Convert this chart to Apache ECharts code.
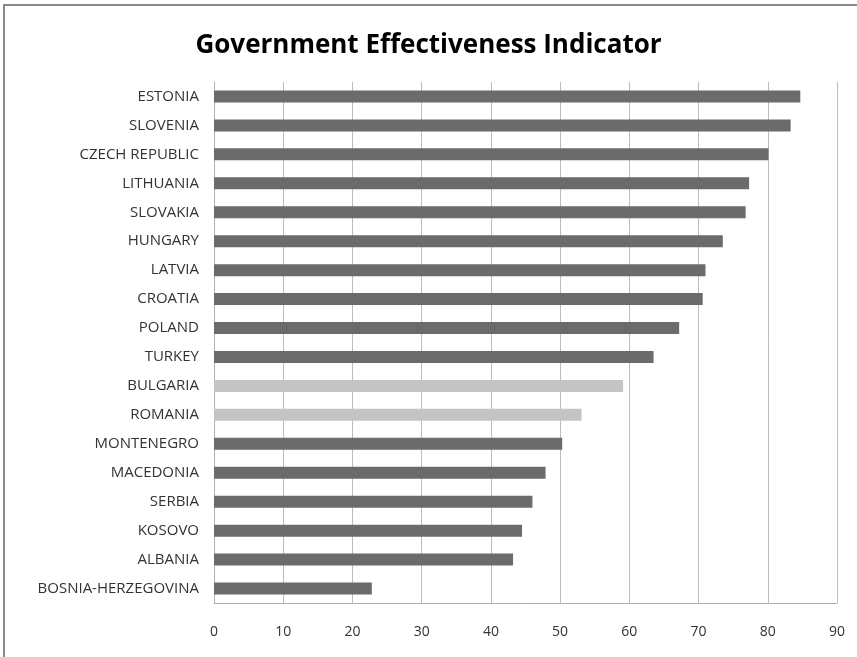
<!DOCTYPE html>
<html>
<head>
<meta charset="utf-8">
<script src="https://cdn.jsdelivr.net/npm/echarts@6/dist/echarts.min.js"></script>
<style>
  html, body { margin: 0; padding: 0; background: #fff; }
  #chart { width: 857px; height: 657px; }
  .frame {
    position: absolute; left: 3px; top: 4px; right: 0; bottom: 0;
    border-left: 2px solid #8a8a8a; border-top: 2px solid #8a8a8a;
    pointer-events: none;
  }
</style>
</head>
<body>
<div id="chart"></div>
<div class="frame"></div>
<script>
  // countries from top to bottom
  const countries = [
    "ESTONIA", "SLOVENIA", "CZECH REPUBLIC", "LITHUANIA", "SLOVAKIA", "HUNGARY",
    "LATVIA", "CROATIA", "POLAND", "TURKEY", "BULGARIA", "ROMANIA",
    "MONTENEGRO", "MACEDONIA", "SERBIA", "KOSOVO", "ALBANIA", "BOSNIA-HERZEGOVINA"
  ];
  const scores = [
    84.7, 83.3, 80.1, 77.3, 76.8, 73.5,
    71.0, 70.6, 67.2, 63.5, 59.1, 53.1,
    50.3, 47.9, 46.0, 44.5, 43.2, 22.8
  ];
  const highlighted = ["BULGARIA", "ROMANIA"];
  const xTicks = [0, 10, 20, 30, 40, 50, 60, 70, 80, 90];

  const myChart = echarts.init(document.getElementById("chart"));

  const font = "'Open Sans', 'Noto Sans', sans-serif";

  const option = {
    animation: false,
    title: {
      text: "Government Effectiveness Indicator",
      left: "center",
      top: 28,
      textStyle: {
        fontFamily: font,
        fontSize: 26,
        fontWeight: "bold",
        color: "#000"
      }
    },
    grid: {
      left: 214,
      right: 20,
      top: 82,
      bottom: 54,
      containLabel: false
    },
    xAxis: {
      type: "value",
      min: xTicks[0],
      max: xTicks[xTicks.length - 1],
      interval: 10,
      axisLine: { show: true, lineStyle: { color: "#b0b0b0" } },
      axisTick: { show: false },
      axisLabel: {
        fontFamily: font,
        fontSize: 14,
        color: "#333",
        margin: 22
      },
      splitLine: { show: true, lineStyle: { color: "#bdbdbd", width: 1 } }
    },
    yAxis: {
      type: "category",
      inverse: true,
      data: countries,
      axisLine: { show: true, lineStyle: { color: "#b0b0b0" } },
      axisTick: { show: false },
      axisLabel: {
        fontFamily: font,
        fontSize: 15,
        color: "#333",
        margin: 15
      }
    },
    series: [
      {
        type: "bar",
        barWidth: 12,
        data: scores.map((v, i) => ({
          value: v,
          itemStyle: {
            color: highlighted.includes(countries[i]) ? "#c4c4c4" : "#6b6b6b"
          }
        }))
      }
    ]
  };

  myChart.setOption(option);

  window.addEventListener("resize", () => myChart.resize());
</script>
</body>
</html>
